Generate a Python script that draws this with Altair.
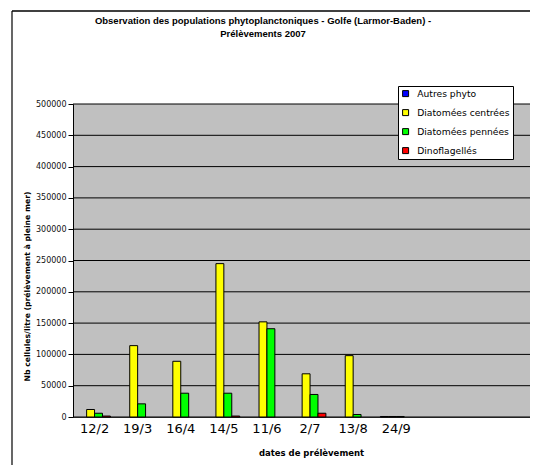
import altair as alt
import pandas as pd

dates = ["12/2", "19/3", "16/4", "14/5", "11/6", "2/7", "13/8", "24/9"]
empty_slots = [" ", "  "]
series = ["Autres phyto", "Diatomées centrées", "Diatomées pennées", "Dinoflagellés"]
autres = [0, 0, 0, 0, 0, 0, 0, 800]
centrees = [12000, 114000, 89000, 245000, 152000, 69000, 98000, 800]
pennees = [6000, 21000, 38000, 38000, 141000, 36000, 4000, 800]
dino = [1500, 0, 0, 1500, 0, 6000, 0, 0]
colors = ["#0000FF", "#FFFF00", "#00FF00", "#FF0000"]
y_ticks = list(range(0, 500001, 50000))

title_lines = "Observation des populations phytoplanctoniques - Golfe (Larmor-Baden) -\nPrélèvements 2007"

rows = []
for s, vals in zip(series, [autres, centrees, pennees, dino]):
    for d, v in zip(dates, vals):
        rows.append({"date": d, "serie": s, "value": v})
df = pd.DataFrame(rows)
grid_df = pd.DataFrame({"value": y_ticks})

FONT = "DejaVu Sans"
W, H = 457, 313
step = 43.1
x_domain = dates + empty_slots
pad_outer = (W / step - len(x_domain)) / 2

y_enc = alt.Y("value:Q",
              scale=alt.Scale(domain=[0, 500000], nice=False),
              axis=alt.Axis(title="Nb cellules/litre (prélèvement à pleine mer)", values=y_ticks,
                            format="d", titleFont=FONT, titleFontSize=7.7, titleFontWeight="bold",
                            titleColor="#000", titleX=-46, titleY=182, titleAngle=-90,
                            titleBaseline="middle", titleAlign="center",
                            labelFont=FONT, labelFontSize=8, labelColor="#111", labelPadding=2,
                            tickSize=5, tickColor="#000", domainColor="#000", grid=False))

grid = alt.Chart(grid_df).mark_rule(color="#000", strokeWidth=1).encode(
    y=y_enc, x=alt.value(0), x2=alt.value(W))

bars = alt.Chart(df).transform_filter("datum.value > 0").mark_bar(
    stroke="black", strokeWidth=1
).encode(
    x=alt.X("date:N", sort=x_domain,
            scale=alt.Scale(domain=x_domain, paddingInner=0, paddingOuter=pad_outer, align=0),
            axis=alt.Axis(title="dates de prélèvement", titleFont=FONT, titleFontSize=8.5,
                          titleFontWeight="bold", titleColor="#000",
                          titleX=238, titleY=38, titleBaseline="alphabetic",
                          titleAlign="center",
                          labelFont=FONT, labelFontSize=13, labelColor="#000", labelAngle=0,
                          labelPadding=5, ticks=False, domainColor="#444", grid=False)),
    xOffset=alt.XOffset("serie:N", scale=alt.Scale(domain=series, paddingInner=0, paddingOuter=0.72)),
    y=y_enc,
    color=alt.Color("serie:N", scale=alt.Scale(domain=series, range=colors),
                    legend=alt.Legend(title=None, orient="none", legendX=325, legendY=-18,
                                      fillColor="white", strokeColor="#000", padding=3,
                                      symbolType="square", symbolSize=36,
                                      symbolStrokeColor="#000", symbolStrokeWidth=1,
                                      labelFont=FONT, labelFontSize=9.2, labelColor="#000",
                                      rowPadding=8, labelOffset=7)),
)

one = pd.DataFrame({"a": [0]})
frame_left = alt.Chart(one).mark_rule(color="#000", strokeWidth=1.2).encode(
    x=alt.value(-61), y=alt.value(-93), y2=alt.value(361))
frame_top = alt.Chart(one).mark_rule(color="#000", strokeWidth=1.5).encode(
    x=alt.value(-61), x2=alt.value(W), y=alt.value(-93))
title = alt.Chart(one).mark_text(
    text=title_lines, lineBreak="\n", font="Liberation Sans", fontSize=9.5, fontWeight="bold",
    align="center", baseline="top", lineHeight=13, color="#000"
).encode(x=alt.value(190), y=alt.value(-88))

chart = alt.layer(frame_left, frame_top, grid, bars, title).properties(
    width=W, height=H,
    autosize=alt.AutoSizeParams(type="none"),
    padding={"left": 65, "top": 96, "right": 0, "bottom": 48},
).configure_view(fill="#C0C0C0", stroke=None)

chart.save("out.html", embed_options={"renderer": "svg", "actions": False})
